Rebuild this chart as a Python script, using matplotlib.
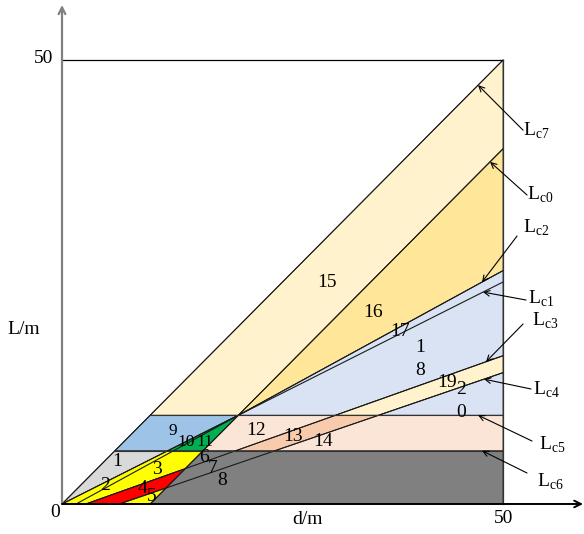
import matplotlib.pyplot as plt
from matplotlib.patches import Polygon

plt.rcParams.update({
    'font.family': 'Liberation Serif', 'font.size': 14,
    'mathtext.fontset': 'custom', 'mathtext.rm': 'Liberation Serif',
})

# critical lines, written as L = k * (d - d0)
line_names = ['c7', 'c0', 'c1', 'c2', 'c3', 'c4']
line_d0 = [0.0, 10.0, 0.0, 1.6, 2.7, 6.5]
line_k = [1.0, 1.0, 0.5, 0.543, 0.353, 0.34]

# horizontal critical levels
band_names = ['c5', 'c6']
band_L = [10.0, 6.0]

d_max = 50
L_max = 50

region_ids = [str(i) for i in range(1, 21)]


def L_of(name, d):
    i = line_names.index(name)
    return line_k[i] * (d - line_d0[i])


def d_at(name, L):
    i = line_names.index(name)
    return line_d0[i] + L / line_k[i]


def meet(a, b):
    i, j = line_names.index(a), line_names.index(b)
    d = (line_k[i] * line_d0[i] - line_k[j] * line_d0[j]) / (line_k[i] - line_k[j])
    return (d, L_of(a, d))


hi, lo = band_L
p_hi = lambda n: (d_at(n, hi), hi)
p_lo = lambda n: (d_at(n, lo), lo)
right = lambda n: (d_max, L_of(n, d_max))
foot = lambda n: (d_at(n, 0), 0)

regions = [
    ([foot('c7'), p_lo('c7'), p_lo('c1')], '#d9d9d9'),
    ([p_lo('c7'), p_hi('c7'), p_hi('c1'), p_lo('c1')], '#9dc3e6'),
    ([p_lo('c1'), p_hi('c1'), p_lo('c0')], '#00b050'),
    ([foot('c7'), p_lo('c1'), p_lo('c0'), meet('c0', 'c3'), foot('c3')], '#ffff00'),
    ([foot('c3'), meet('c0', 'c3'), meet('c0', 'c4'), foot('c4')], '#ff0000'),
    ([foot('c4'), meet('c0', 'c4'), foot('c0')], '#ffff00'),
    ([foot('c0'), p_lo('c0'), (d_max, lo), (d_max, 0)], '#808080'),
    ([p_lo('c0'), p_hi('c0'), (d_max, hi), (d_max, lo)], '#fbe5d6'),
    ([p_lo('c3'), p_hi('c3'), p_hi('c4'), p_lo('c4')], '#f8cbad'),
    ([p_hi('c7'), right('c7'), right('c0'), p_hi('c0')], '#fff2cc'),
    ([p_hi('c0'), right('c0'), right('c2')], '#ffe699'),
    ([p_hi('c0'), right('c2'), right('c3'), p_hi('c3')], '#dae3f3'),
    ([p_hi('c3'), right('c3'), right('c4'), p_hi('c4')], '#fff2cc'),
    ([p_hi('c4'), right('c4'), (d_max, hi)], '#dae3f3'),
]

fig = plt.figure(figsize=(5.84, 5.34), dpi=100)
ax = fig.add_axes([0, 0, 1, 1])
ax.set_xlim(-7.03, 59.18)
ax.set_ylim(-3.38, 56.76)
ax.axis('off')

for verts, col in regions:
    ax.add_patch(Polygon(verts, closed=True, facecolor=col, edgecolor='#222222', lw=0.6))

# the critical lines themselves
for n in line_names:
    x0, y0 = foot(n)
    x1, y1 = right(n)
    ax.plot([x0, x1], [y0, y1], color='#1a1a1a', lw=0.8)
for L in band_L:
    ax.plot([L, d_max], [L, L], color='#333333', lw=0.8)

# frame
ax.plot([0, d_max], [L_max, L_max], color='black', lw=0.9)
ax.plot([d_max, d_max], [0, L_max], color='#333333', lw=0.9)

# axes with arrows
ax.annotate('', xy=(0, 56.2), xytext=(0, 0),
            arrowprops=dict(arrowstyle='->', color='#808080', lw=1.6, shrinkA=0, shrinkB=0, mutation_scale=12))
ax.annotate('', xy=(59.07, 0), xytext=(0, 0),
            arrowprops=dict(arrowstyle='->', color='black', lw=1.4, shrinkA=0, shrinkB=0, mutation_scale=12))

ax.text(-1.02, 50.17, str(L_max), ha='right', va='center')
ax.text(50.06, -1.63, str(d_max), ha='center', va='center')
ax.text(-0.79, -1.0, '0', ha='center', va='center')
ax.text(-4.31, 19.6, 'L/m', ha='center', va='center')
ax.text(27.78, -1.8, 'd/m', ha='center', va='center')

# region numbers
label_pos = [
    (6.24, 4.73), (4.88, 2.03), (10.77, 3.83), (9.18, 1.80), (10.2, 0.79),
    (16.1, 5.29), (17.12, 4.05), (18.14, 2.59), (12.55, 8.25), (14.05, 7.0),
    (16.25, 7.0), (22.0, 8.33), (26.19, 7.55), (29.59, 7.09), (30.05, 25.0),
    (35.26, 21.62), (38.32, 19.48), (40.59, 16.33), (43.65, 13.63), (45.24, 11.6),
]
tight = ('9', '10', '11')
for rid, (x, y) in zip(region_ids, label_pos):
    txt = rid
    if rid in ('18', '20'):
        txt = rid[0] + '\n' + rid[1]
    ax.text(x, y, txt, ha='center', va='center', linespacing=1.45,
            fontsize=12.5 if rid in tight else 14)

# callouts: name, tip d, arrow tail, text position
callouts = [
    ('c7', 47.17, (52.27, 42.1), (52.27, 42.0)),
    ('c0', 48.53, (52.72, 34.8), (52.72, 34.8)),
    ('c2', 47.62, (51.59, 30.18), (52.27, 31.08)),
    ('c1', 47.73, (52.61, 22.97), (52.83, 23.09)),
    ('c3', 48.07, (52.27, 20.27), (53.29, 20.61)),
    ('c4', 47.85, (53.17, 12.95), (53.4, 12.84)),
]
for n, tip_d, tail, tpos in callouts:
    ax.annotate('', xy=(tip_d, L_of(n, tip_d)), xytext=tail,
                arrowprops=dict(arrowstyle='->', color='black', lw=0.8, shrinkA=0, shrinkB=0, mutation_scale=10))
    ax.text(tpos[0], tpos[1], r'L$_{\mathrm{%s}}$' % n, ha='left', va='center')

band_callouts = [((47.17, hi), (53.29, 7.09), (54.08, 6.64)),
                 ((47.62, lo), (52.72, 3.49), (53.85, 2.48))]
for n, (tip, tail, tpos) in zip(band_names, band_callouts):
    ax.annotate('', xy=tip, xytext=tail,
                arrowprops=dict(arrowstyle='->', color='black', lw=0.8, shrinkA=0, shrinkB=0, mutation_scale=10))
    ax.text(tpos[0], tpos[1], r'L$_{\mathrm{%s}}$' % n, ha='left', va='center')

fig.savefig('out.png', dpi=100)
